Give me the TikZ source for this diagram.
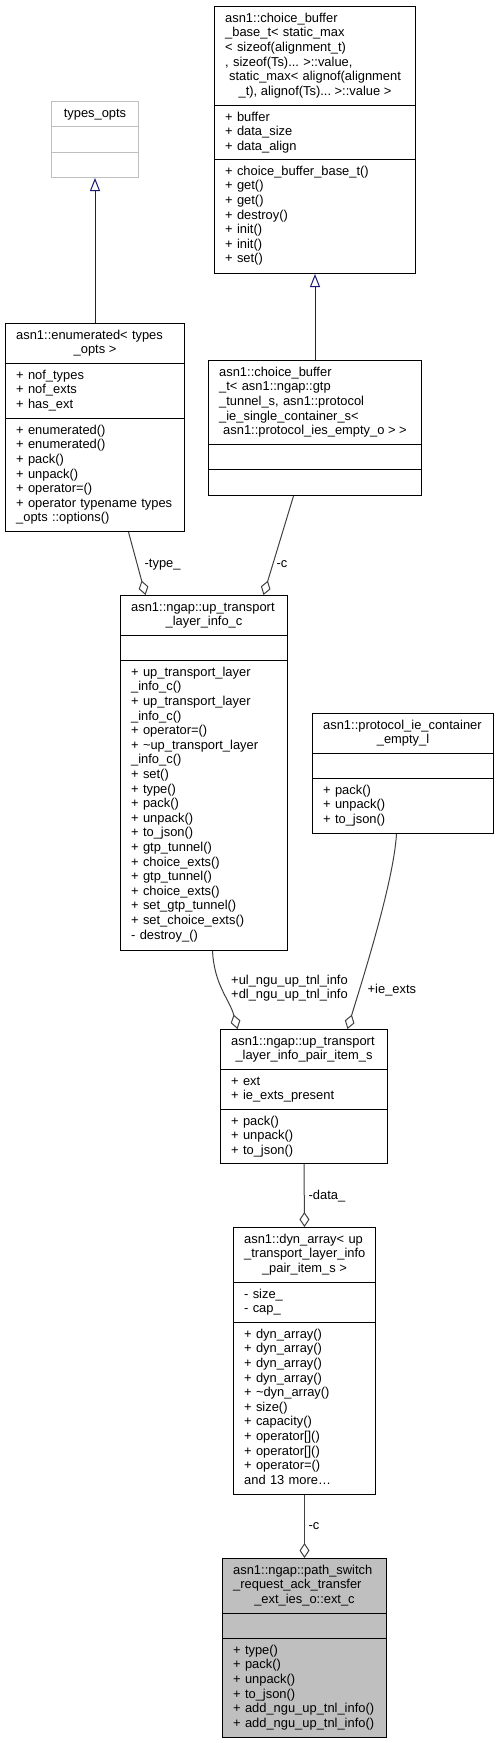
\documentclass[tikz,border=0pt]{standalone}
\usepackage{fontspec}
\setmainfont{Liberation Sans}
\frenchspacing
\usetikzlibrary{arrows.meta, calc}
\definecolor{boxgray}{RGB}{191,191,191}
\definecolor{edgegray}{RGB}{64,64,64}
\definecolor{inheritblue}{RGB}{25,25,112}
\tikzset{
    my-class/.style={
        draw, line width=1pt, anchor=north west, inner sep=0pt
    },
    my-divider/.style={
        line width=1pt
    },
    my-text/.style={
        font=\fontsize{12.9}{14.6}\selectfont, inner sep=0pt, anchor=north west, align=left,
        text width=300pt, yshift=10.22pt, execute at begin node=\strut
    },
    my-title/.style={
        font=\fontsize{12.9}{14.6}\selectfont, inner sep=0pt, anchor=base
    },
    my-label/.style={
        font=\fontsize{12.9}{14.6}\selectfont, inner sep=0pt, anchor=base west
    },
    my-inherit/.style={
        draw=inheritblue, line width=1pt, -{Triangle[open, length=13pt, width=10pt]}
    },
    my-aggregation/.style={
        draw=edgegray, line width=1pt, -{Diamond[open, length=15pt, width=10pt]}
    },
}
\begin{document}
\begin{tikzpicture}[x=1pt, y=-1pt]

        \useasboundingbox (0,0) rectangle (499,1743);

        % TYPES_OPTS
        \node[my-class, draw=boxgray, minimum width=87pt, minimum height=76pt] (TYPESOPTS) at (51,101) {};
        \draw[my-divider, boxgray] ($(TYPESOPTS.north west)+(0,25)$) -- ($(TYPESOPTS.north east)+(0,25)$);
        \draw[my-divider, boxgray] ($(TYPESOPTS.north west)+(0,51)$) -- ($(TYPESOPTS.north east)+(0,51)$);
        \node[my-title] at ($(TYPESOPTS.north)+(0,16)$) {types\_opts};

        % CHOICE BUFFER BASE
        \node[my-class, minimum width=201pt, minimum height=267pt] (CBBASE) at (214,6) {};
        \draw[my-divider] ($(CBBASE.north west)+(0,99)$) -- ($(CBBASE.north east)+(0,99)$);
        \draw[my-divider] ($(CBBASE.north west)+(0,153)$) -- ($(CBBASE.north east)+(0,153)$);
        \node[my-text] at ($(CBBASE.north west)+(11,16)$) {asn1::choice\_buffer\\\_base\_t< static\_max\\< sizeof(alignment\_t)\\, sizeof(Ts)... >::value,\\\hspace*{4pt}static\_max< alignof(alignment};
        \node[my-title] at ($(CBBASE.north)+(0,89)$) {\_t), alignof(Ts)... >::value >};
        \node[my-text] at ($(CBBASE.north west)+(11,115)$) {+ buffer\\+ data\_size\\+ data\_align};
        \node[my-text] at ($(CBBASE.north west)+(11,169)$) {+ choice\_buffer\_base\_t()\\+ get()\\+ get()\\+ destroy()\\+ init()\\+ init()\\+ set()};

        % ENUMERATED
        \node[my-class, minimum width=179pt, minimum height=208pt] (ENUM) at (5,323) {};
        \draw[my-divider] ($(ENUM.north west)+(0,40)$) -- ($(ENUM.north east)+(0,40)$);
        \draw[my-divider] ($(ENUM.north west)+(0,95)$) -- ($(ENUM.north east)+(0,95)$);
        \node[my-text] at ($(ENUM.north west)+(11,16)$) {asn1::enumerated< types};
        \node[my-title] at ($(ENUM.north)+(0,30.6)$) {\_opts >};
        \node[my-text] at ($(ENUM.north west)+(11,56)$) {+ nof\_types\\+ nof\_exts\\+ has\_ext};
        \node[my-text] at ($(ENUM.north west)+(11,111)$) {+ enumerated()\\+ enumerated()\\+ pack()\\+ unpack()\\+ operator=()\\+ operator typename types\\\_opts ::options()};

        % CHOICE BUFFER
        \node[my-class, minimum width=213pt, minimum height=135pt] (CBUF) at (208,360) {};
        \draw[my-divider] ($(CBUF.north west)+(0,84)$) -- ($(CBUF.north east)+(0,84)$);
        \draw[my-divider] ($(CBUF.north west)+(0,109)$) -- ($(CBUF.north east)+(0,109)$);
        \node[my-text] at ($(CBUF.north west)+(11,16)$) {asn1::choice\_buffer\\\_t< asn1::ngap::gtp\\\_tunnel\_s, asn1::protocol\\\_ie\_single\_container\_s<};
        \node[my-title] at ($(CBUF.north)+(0,74.4)$) {asn1::protocol\_ies\_empty\_o > >};

        % INHERITANCE
        \draw[my-inherit] (ENUM.north) -- (TYPESOPTS.south);
        \draw[my-inherit] (CBUF.north) -- (CBBASE.south);

        % UP TRANSPORT LAYER INFO
        \node[my-class, minimum width=167pt, minimum height=355pt] (UPTLI) at (120,595) {};
        \draw[my-divider] ($(UPTLI.north west)+(0,40)$) -- ($(UPTLI.north east)+(0,40)$);
        \draw[my-divider] ($(UPTLI.north west)+(0,65)$) -- ($(UPTLI.north east)+(0,65)$);
        \node[my-text] at ($(UPTLI.north west)+(11,16)$) {asn1::ngap::up\_transport};
        \node[my-title] at ($(UPTLI.north)+(0,30.6)$) {\_layer\_info\_c};
        \node[my-text] at ($(UPTLI.north west)+(11,81)$) {+ up\_transport\_layer\\\_info\_c()\\+ up\_transport\_layer\\\_info\_c()\\+ operator=()\\+ \textasciitilde up\_transport\_layer\\\_info\_c()\\+ set()\\+ type()\\+ pack()\\+ unpack()\\+ to\_json()\\+ gtp\_tunnel()\\+ choice\_exts()\\+ gtp\_tunnel()\\+ choice\_exts()\\+ set\_gtp\_tunnel()\\+ set\_choice\_exts()\\- destroy\_()};

        % CONNECTIONS
        \draw[my-aggregation] ($(ENUM.south)+(33.5,0)$) -- ($(UPTLI.north)+(-58.5,0)$);
        \draw[my-aggregation] ($(CBUF.south)+(-21.5,0)$) -- ($(UPTLI.north)+(59.5,0)$);
        \node[my-label] at ($(UPTLI.north)+(-59.5,-28)$) {-type\_};
        \node[my-label] at ($(UPTLI.north)+(72.5,-28)$) {-c};

        % PROTOCOL IE CONTAINER
        \node[my-class, minimum width=181pt, minimum height=120pt] (PIEEMPTY) at (312,713) {};
        \draw[my-divider] ($(PIEEMPTY.north west)+(0,40)$) -- ($(PIEEMPTY.north east)+(0,40)$);
        \draw[my-divider] ($(PIEEMPTY.north west)+(0,65)$) -- ($(PIEEMPTY.north east)+(0,65)$);
        \node[my-text] at ($(PIEEMPTY.north west)+(11,16)$) {asn1::protocol\_ie\_container};
        \node[my-title] at ($(PIEEMPTY.north)+(0,30.6)$) {\_empty\_l};
        \node[my-text] at ($(PIEEMPTY.north west)+(11,81)$) {+ pack()\\+ unpack()\\+ to\_json()};

        % PAIR ITEM
        \node[my-class, minimum width=167pt, minimum height=134pt] (PAIRITEM) at (220,1029) {};
        \draw[my-divider] ($(PAIRITEM.north west)+(0,40)$) -- ($(PAIRITEM.north east)+(0,40)$);
        \draw[my-divider] ($(PAIRITEM.north west)+(0,80)$) -- ($(PAIRITEM.north east)+(0,80)$);
        \node[my-text] at ($(PAIRITEM.north west)+(11,16)$) {asn1::ngap::up\_transport};
        \node[my-title] at ($(PAIRITEM.north)+(0,30.6)$) {\_layer\_info\_pair\_item\_s};
        \node[my-text] at ($(PAIRITEM.north west)+(11,56)$) {+ ext\\+ ie\_exts\_present};
        \node[my-text] at ($(PAIRITEM.north west)+(11,96)$) {+ pack()\\+ unpack()\\+ to\_json()};

        % CONNECTIONS
        \draw[my-aggregation] ($(UPTLI.south)+(8.5,0)$) .. controls +(2,35) and +(-8,-30) .. ($(PAIRITEM.north)+(-66.5,0)$);
        \draw[my-aggregation] ($(PIEEMPTY.south)+(-6.5,0)$) .. controls +(-3,50) and +(12,-40) .. ($(PAIRITEM.north)+(43.5,0)$);
        \node[my-label, anchor=center, align=center] at ($(PAIRITEM.north)+(-14.5,-41)$) {+ul\_ngu\_up\_tnl\_info\\+dl\_ngu\_up\_tnl\_info};
        \node[my-label] at ($(PAIRITEM.north)+(63.5,-36)$) {+ie\_exts};

        % DYN ARRAY
        \node[my-class, minimum width=142pt, minimum height=267pt] (DYNARR) at (233,1227) {};
        \draw[my-divider] ($(DYNARR.north west)+(0,55)$) -- ($(DYNARR.north east)+(0,55)$);
        \draw[my-divider] ($(DYNARR.north west)+(0,95)$) -- ($(DYNARR.north east)+(0,95)$);
        \node[my-text] at ($(DYNARR.north west)+(11,16)$) {asn1::dyn\_array< up\\\_transport\_layer\_info};
        \node[my-title] at ($(DYNARR.north)+(0,45.2)$) {\_pair\_item\_s >};
        \node[my-text] at ($(DYNARR.north west)+(11,71)$) {- size\_\\- cap\_};
        \node[my-text] at ($(DYNARR.north west)+(11,111)$) {+ dyn\_array()\\+ dyn\_array()\\+ dyn\_array()\\+ dyn\_array()\\+ \textasciitilde dyn\_array()\\+ size()\\+ capacity()\\+ operator[]()\\+ operator[]()\\+ operator=()\\and 13 more…};

        \draw[my-aggregation] (PAIRITEM.south) -- (DYNARR.north);
        \node[my-label] at ($(DYNARR.north)+(4,-28)$) {-data\_};

        % EXT C
        \node[my-class, fill=boxgray, minimum width=164pt, minimum height=179pt] (EXTC) at (222,1558) {};
        \draw[my-divider] ($(EXTC.north west)+(0,55)$) -- ($(EXTC.north east)+(0,55)$);
        \draw[my-divider] ($(EXTC.north west)+(0,80)$) -- ($(EXTC.north east)+(0,80)$);
        \node[my-text] at ($(EXTC.north west)+(11,16)$) {asn1::ngap::path\_switch\\\_request\_ack\_transfer};
        \node[my-title] at ($(EXTC.north)+(0,45.2)$) {\_ext\_ies\_o::ext\_c};
        \node[my-text] at ($(EXTC.north west)+(11,96)$) {+ type()\\+ pack()\\+ unpack()\\+ to\_json()\\+ add\_ngu\_up\_tnl\_info()\\+ add\_ngu\_up\_tnl\_info()};

        \draw[my-aggregation] (DYNARR.south) -- (EXTC.north);
        \node[my-label] at ($(EXTC.north)+(4,-29)$) {-c};

    \end{tikzpicture}
\end{document}
